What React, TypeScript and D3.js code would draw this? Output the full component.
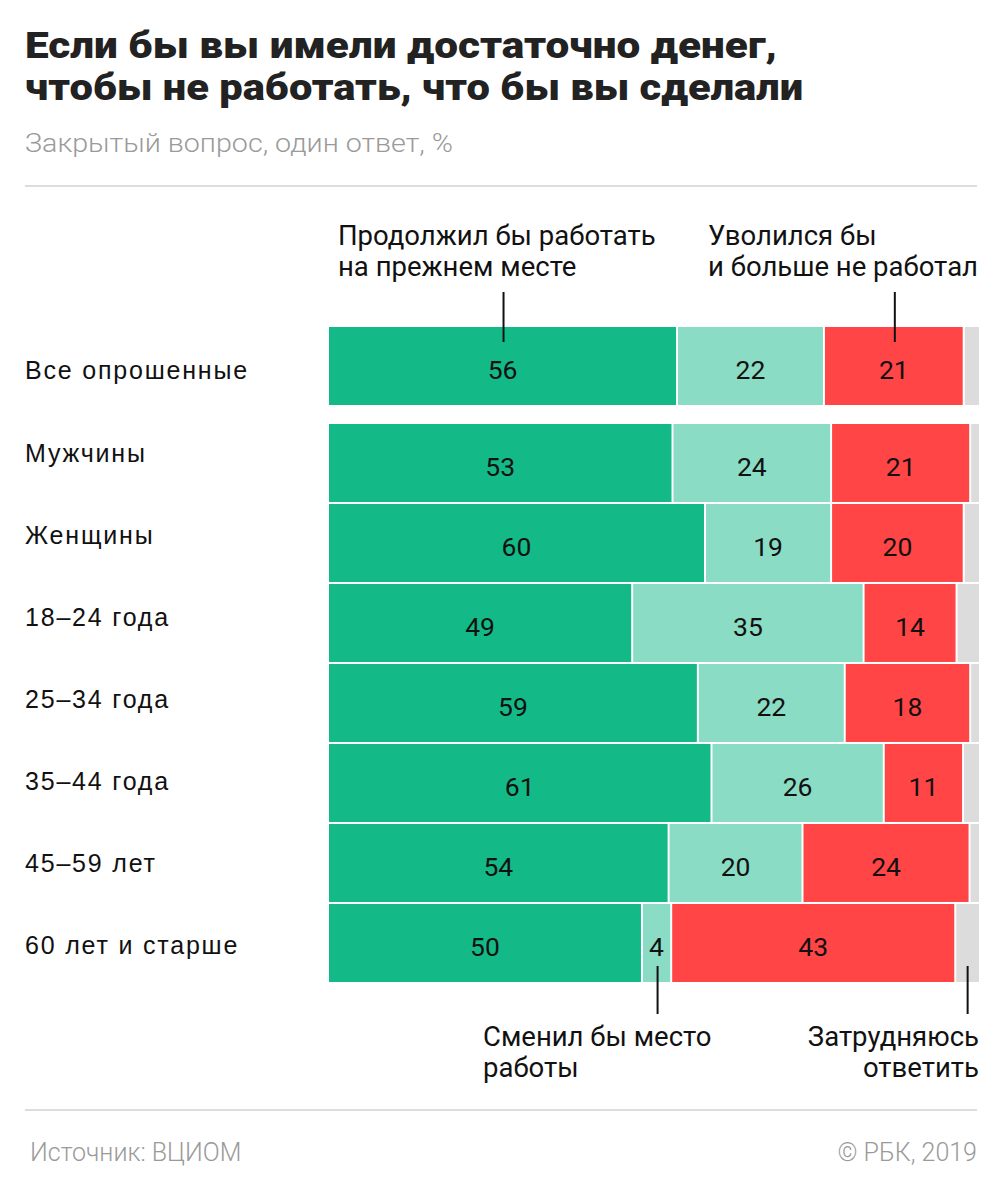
import React from "react";
import * as d3 from "d3";

const categories = [
  "Все опрошенные",
  "Мужчины",
  "Женщины",
  "18–24 года",
  "25–34 года",
  "35–44 года",
  "45–59 лет",
  "60 лет и старше",
];
// displayed values (%)
const stayLabels = [56, 53, 60, 49, 59, 61, 54, 50];
const changeLabels = [22, 24, 19, 35, 22, 26, 20, 4];
const quitLabels = [21, 21, 20, 14, 18, 11, 24, 43];
// drawn segment shares (%)
const stayShares = [53.7, 53.0, 58.0, 46.8, 56.9, 59.0, 52.4, 48.3];
const changeShares = [22.6, 24.4, 19.4, 35.6, 22.6, 26.5, 20.6, 4.5];
const quitShares = [21.5, 21.4, 20.4, 14.3, 19.3, 12.2, 25.7, 43.7];

const colors = ["#13ba87", "#8adcc4", "#ff4545", "#dcdcdc"];

const W = 1005;
const H = 1192;

export default function App() {
  const x = d3.scaleLinear().domain([0, 100]).range([329, 979]);
  const rowTop = (i: number) => (i === 0 ? 327 : 344 + i * 80);
  const barH = 78;
  const labelBase = (i: number) => (i === 0 ? 379 : 462 + (i - 1) * 82);

  const rows = categories.map((c, i) => {
    const shares = [stayShares[i], changeShares[i], quitShares[i]];
    const rest = 100 - d3.sum(shares);
    const all = [...shares, rest];
    const labels = [stayLabels[i], changeLabels[i], quitLabels[i], null];
    let acc = 0;
    const segs = all.map((s, k) => {
      const x0 = x(acc);
      acc += s;
      const x1 = x(acc);
      return { x0, x1, k, label: labels[k] };
    });
    return { c, i, segs };
  });

  const sans = "Roboto, 'Noto Sans', sans-serif";
  const wide = "'Liberation Sans', Arial, sans-serif";

  const r0 = rows[0].segs;
  const r7 = rows[7].segs;
  const stayMid = (r0[0].x0 + r0[0].x1) / 2;
  const quitMid = (r0[2].x0 + r0[2].x1) / 2;
  const changeMid7 = (r7[1].x0 + r7[1].x1) / 2;
  const greyMid7 = (r7[3].x0 + r7[3].x1) / 2;

  return (
    <svg width={W} height={H} style={{ display: "block", position: "absolute", left: 0, top: 0 }}>
      <rect x={0} y={0} width={W} height={H} fill="#fff" />
      <text x={25} y={58} fontFamily={sans} fontWeight={900} fontSize={36} fill="#222" textLength={752} lengthAdjust="spacingAndGlyphs">
        Если бы вы имели достаточно денег,
      </text>
      <text x={25} y={100} fontFamily={sans} fontWeight={900} fontSize={36} fill="#222" textLength={778} lengthAdjust="spacingAndGlyphs">
        чтобы не работать, что бы вы сделали
      </text>
      <text x={25} y={152} fontFamily={sans} fontWeight={300} fontSize={25} fill="#9a9a9a" textLength={428} lengthAdjust="spacingAndGlyphs">
        Закрытый вопрос, один ответ, %
      </text>
      <line x1={25} x2={977} y1={186} y2={186} stroke="#dddddd" strokeWidth={2} />

      {/* top annotations */}
      <text fontFamily={sans} fontSize={27.5} fill="#111">
        <tspan x={338} y={245}>Продолжил бы работать</tspan>
        <tspan x={338} y={276}>на прежнем месте</tspan>
      </text>
      <text fontFamily={sans} fontSize={27.5} fill="#111">
        <tspan x={708} y={245}>Уволился бы</tspan>
        <tspan x={708} y={276}>и больше не работал</tspan>
      </text>

      {rows.map((r) => (
        <g key={r.c}>
          <text x={25} y={labelBase(r.i)} fontFamily={wide} fontSize={25} letterSpacing={1.8} fill="#111">
            {r.c}
          </text>
          {r.segs.map((s) => (
            <rect
              key={s.k}
              x={s.x0}
              y={rowTop(r.i)}
              width={Math.max(0, s.x1 - s.x0 - (s.k < 3 ? 2 : 0))}
              height={barH}
              fill={colors[s.k]}
            />
          ))}
          {r.segs.map((s) =>
            s.label === null ? null : (
              <text
                key={"t" + s.k}
                x={(s.x0 + s.x1) / 2 - 1}
                y={rowTop(r.i) + barH / 2 + 13}
                textAnchor="middle"
                fontFamily={sans}
                fontSize={26.5}
                fill="#111"
              >
                {s.label}
              </text>
            )
          )}
        </g>
      ))}

      <line x1={stayMid} x2={stayMid} y1={292} y2={342} stroke="#111" strokeWidth={2} />
      <line x1={quitMid} x2={quitMid} y1={292} y2={342} stroke="#111" strokeWidth={2} />
      <line x1={changeMid7} x2={changeMid7} y1={966} y2={1014} stroke="#111" strokeWidth={2} />
      <line x1={greyMid7} x2={greyMid7} y1={966} y2={1014} stroke="#111" strokeWidth={2} />

      {/* bottom annotations */}
      <text fontFamily={sans} fontSize={27.5} fill="#111">
        <tspan x={483} y={1046}>Сменил бы место</tspan>
        <tspan x={483} y={1077}>работы</tspan>
      </text>
      <text fontFamily={sans} fontSize={27.5} fill="#111" textAnchor="end">
        <tspan x={979} y={1046}>Затрудняюсь</tspan>
        <tspan x={979} y={1077}>ответить</tspan>
      </text>

      <line x1={25} x2={977} y1={1110} y2={1110} stroke="#dddddd" strokeWidth={2} />
      <text x={30} y={1161} fontFamily={sans} fontWeight={300} fontSize={25} fill="#9a9a9a">
        Источник: ВЦИОМ
      </text>
      <text x={977} y={1161} textAnchor="end" fontFamily={sans} fontWeight={300} fontSize={25} fill="#9a9a9a">
        © РБК, 2019
      </text>
    </svg>
  );
}
